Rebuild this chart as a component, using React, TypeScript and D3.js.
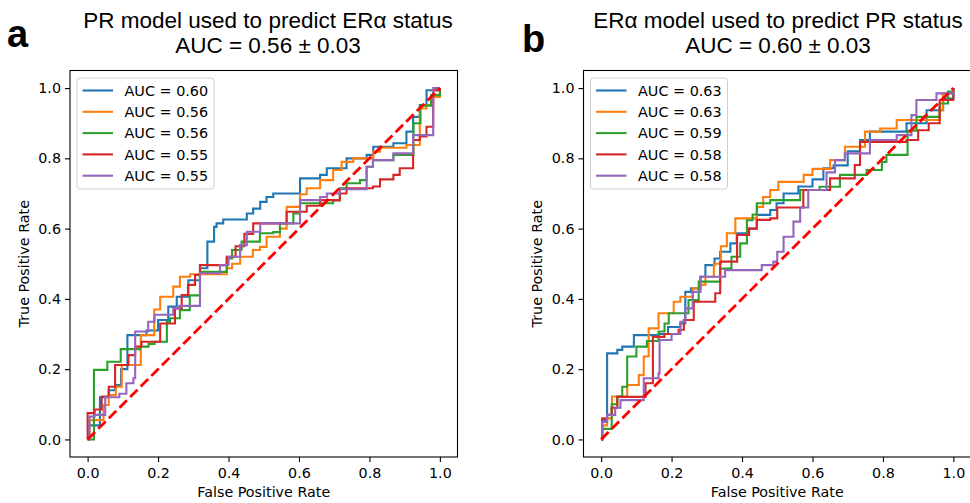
import React, { useEffect, useRef } from "react";
import * as d3 from "d3";

type Pt = [number, number];

const xTicks = [0, 0.2, 0.4, 0.6, 0.8, 1.0];
const yTicks = [0, 0.2, 0.4, 0.6, 0.8, 1.0];
const colors = ["#1f77b4", "#ff7f0e", "#2ca02c", "#d62728", "#9467bd"];

// panel a: PR model -> ERα
const aTitle = ["PR model used to predict ERα status", "AUC = 0.56 ± 0.03"];
const aAuc = ["0.60", "0.56", "0.56", "0.55", "0.55"];
const aBlue: Pt[] = [[0,0],[0.005,0.04],[0.035,0.12],[0.06,0.14],[0.078,0.155],[0.095,0.2],[0.113,0.297],[0.167,0.31],[0.2,0.34],[0.229,0.378],[0.253,0.406],[0.286,0.453],[0.319,0.487],[0.34,0.563],[0.359,0.605],[0.366,0.615],[0.385,0.626],[0.452,0.643],[0.47,0.657],[0.49,0.676],[0.508,0.69],[0.527,0.70],[0.603,0.743],[0.66,0.753],[0.679,0.772],[0.735,0.8],[0.792,0.81],[0.811,0.833],[0.868,0.843],[0.905,0.876],[0.924,0.918],[0.943,0.952],[0.962,0.994],[1,1]];
const aOrange: Pt[] = [[0,0],[0.005,0.055],[0.045,0.098],[0.06,0.126],[0.08,0.15],[0.097,0.212],[0.151,0.297],[0.189,0.37],[0.206,0.406],[0.243,0.435],[0.262,0.463],[0.291,0.47],[0.395,0.487],[0.41,0.5],[0.433,0.52],[0.469,0.539],[0.489,0.548],[0.508,0.577],[0.546,0.6],[0.565,0.662],[0.603,0.698],[0.622,0.715],[0.66,0.738],[0.697,0.767],[0.721,0.79],[0.754,0.80],[0.811,0.819],[0.83,0.83],[0.905,0.838],[0.943,0.942],[0.962,0.952],[0.981,0.975],[1,1]];
const aGreen: Pt[] = [[0,0],[0.018,0.198],[0.056,0.221],[0.094,0.257],[0.149,0.264],[0.173,0.272],[0.19,0.278],[0.225,0.335],[0.234,0.345],[0.262,0.368],[0.29,0.41],[0.319,0.477],[0.395,0.515],[0.41,0.539],[0.437,0.563],[0.489,0.587],[0.527,0.59],[0.546,0.615],[0.584,0.643],[0.603,0.672],[0.697,0.68],[0.716,0.715],[0.735,0.729],[0.773,0.738],[0.792,0.776],[0.81,0.795],[0.868,0.81],[0.925,0.9],[0.945,0.95],[0.975,0.98],[1,1]];
const aRed: Pt[] = [[0,0],[0,0.075],[0.02,0.085],[0.04,0.122],[0.06,0.15],[0.078,0.212],[0.116,0.24],[0.135,0.264],[0.153,0.278],[0.206,0.33],[0.248,0.373],[0.267,0.411],[0.285,0.44],[0.305,0.468],[0.319,0.496],[0.395,0.52],[0.42,0.55],[0.445,0.585],[0.47,0.615],[0.565,0.648],[0.622,0.665],[0.66,0.681],[0.716,0.70],[0.735,0.715],[0.81,0.72],[0.83,0.74],[0.868,0.753],[0.886,0.772],[0.924,0.852],[0.943,0.862],[0.962,0.89],[0.981,0.994],[1,1]];
const aPurple: Pt[] = [[0,0],[0.005,0.065],[0.02,0.07],[0.05,0.12],[0.09,0.13],[0.11,0.16],[0.13,0.174],[0.135,0.307],[0.172,0.335],[0.19,0.355],[0.243,0.373],[0.26,0.38],[0.319,0.473],[0.376,0.496],[0.4,0.52],[0.433,0.553],[0.452,0.591],[0.49,0.615],[0.603,0.681],[0.66,0.69],[0.679,0.7],[0.716,0.712],[0.792,0.776],[0.81,0.795],[0.868,0.814],[0.924,0.866],[0.981,1.0],[1,1]];

// panel b: ERα model -> PR
const bTitle = ["ERα model used to predict PR status", "AUC = 0.60 ± 0.03"];
const bAuc = ["0.63", "0.63", "0.59", "0.58", "0.58"];
const bBlue: Pt[] = [[0,0],[0.003,0.055],[0.017,0.245],[0.046,0.255],[0.06,0.264],[0.093,0.297],[0.164,0.3],[0.19,0.32],[0.225,0.33],[0.239,0.42],[0.255,0.43],[0.282,0.463],[0.296,0.496],[0.322,0.515],[0.338,0.534],[0.367,0.558],[0.385,0.587],[0.42,0.6],[0.442,0.639],[0.48,0.653],[0.498,0.672],[0.518,0.70],[0.56,0.72],[0.6,0.74],[0.631,0.772],[0.66,0.78],[0.7,0.82],[0.735,0.852],[0.763,0.876],[0.867,0.9],[0.924,0.937],[0.971,0.97],[1,1]];
const bOrange: Pt[] = [[0,0],[0.003,0.04],[0.017,0.06],[0.031,0.122],[0.074,0.155],[0.107,0.183],[0.121,0.236],[0.135,0.316],[0.163,0.359],[0.206,0.392],[0.225,0.406],[0.26,0.43],[0.282,0.44],[0.296,0.463],[0.32,0.5],[0.34,0.55],[0.357,0.587],[0.381,0.629],[0.442,0.662],[0.46,0.69],[0.48,0.71],[0.503,0.733],[0.575,0.753],[0.6,0.77],[0.65,0.795],[0.692,0.833],[0.749,0.876],[0.792,0.885],[0.839,0.909],[0.961,0.937],[0.97,0.985],[1,1]];
const bGreen: Pt[] = [[0,0],[0.003,0.03],[0.03,0.1],[0.046,0.122],[0.06,0.15],[0.074,0.236],[0.1,0.264],[0.13,0.28],[0.163,0.307],[0.18,0.33],[0.192,0.359],[0.248,0.397],[0.277,0.449],[0.338,0.486],[0.37,0.52],[0.395,0.558],[0.414,0.624],[0.43,0.64],[0.442,0.672],[0.48,0.681],[0.565,0.71],[0.62,0.719],[0.678,0.753],[0.754,0.767],[0.797,0.79],[0.81,0.81],[0.87,0.879],[0.895,0.918],[0.961,0.956],[0.985,0.99],[1,1]];
const bRed: Pt[] = [[0,0],[0.003,0.06],[0.017,0.07],[0.03,0.09],[0.046,0.121],[0.126,0.16],[0.147,0.292],[0.18,0.3],[0.22,0.312],[0.235,0.34],[0.263,0.392],[0.324,0.416],[0.338,0.506],[0.386,0.582],[0.42,0.6],[0.442,0.625],[0.48,0.629],[0.5,0.66],[0.574,0.71],[0.65,0.743],[0.72,0.781],[0.735,0.847],[0.867,0.852],[0.9,0.88],[0.93,0.9],[0.961,0.966],[1,1]];
const bPurple: Pt[] = [[0,0],[0.003,0.05],[0.017,0.07],[0.04,0.09],[0.055,0.112],[0.121,0.174],[0.163,0.188],[0.166,0.283],[0.2,0.3],[0.225,0.335],[0.239,0.373],[0.26,0.42],[0.282,0.463],[0.352,0.482],[0.456,0.496],[0.489,0.506],[0.5,0.534],[0.518,0.577],[0.546,0.62],[0.565,0.66],[0.588,0.71],[0.64,0.76],[0.664,0.795],[0.692,0.814],[0.763,0.852],[0.839,0.866],[0.881,0.923],[0.895,0.966],[0.952,0.985],[1,1]];

const tickFont = "'DejaVu Sans', sans-serif";
const titleFont = "'Liberation Sans', Arial, sans-serif";

const Panel = ({ left, right, top, bottom, curves, auc, title, titleX, letter, letterX, letterY }) => {
  const ref = useRef<SVGGElement>(null);
  useEffect(() => {
    const g = d3.select(ref.current);
    g.selectAll("*").remove();

    const x = d3.scaleLinear().domain([-0.05, 1.05]).range([left, right]);
    const y = d3.scaleLinear().domain([-0.05, 1.05]).range([bottom, top]);

    // axes, ticks only (frame drawn separately)
    const xAxis = d3.axisBottom(x).tickValues(xTicks).tickFormat(d3.format(".1f")).tickSize(5).tickPadding(5.5);
    const yAxis = d3.axisLeft(y).tickValues(yTicks).tickFormat(d3.format(".1f")).tickSize(5).tickPadding(4);
    const gx = g.append("g").attr("transform", `translate(0,${bottom})`).call(xAxis);
    const gy = g.append("g").attr("transform", `translate(${left},0)`).call(yAxis);
    [gx, gy].forEach((a) => {
      a.select(".domain").remove();
      a.attr("font-family", tickFont).attr("font-size", 14.3);
      a.selectAll("line").attr("stroke", "#000").attr("stroke-width", 1.1);
      a.selectAll("text").style("font-family", tickFont).style("font-size", "14.3px").attr("fill", "#000");
    });

    // curves
    const line = d3.line<Pt>().x((d) => x(d[0])).y((d) => y(d[1])).curve(d3.curveStepAfter);
    curves.forEach((c, i) => {
      g.append("path").attr("d", line(c)).attr("fill", "none")
        .attr("stroke", colors[i]).attr("stroke-width", 2.1).attr("stroke-linejoin", "miter");
    });

    // chance diagonal
    g.append("path").attr("d", d3.line<Pt>().x((d) => x(d[0])).y((d) => y(d[1]))([[0, 0], [1, 1]]))
      .attr("fill", "none").attr("stroke", "#ff0000").attr("stroke-width", 2.8).attr("stroke-dasharray", "10.5,4.5");

    // frame
    g.append("rect").attr("x", left).attr("y", top).attr("width", right - left).attr("height", bottom - top)
      .attr("fill", "none").attr("stroke", "#000").attr("stroke-width", 1.1);

    // legend
    const lx = left + 7, ly = top + 7.5;
    g.append("rect").attr("x", lx).attr("y", ly).attr("width", 137).attr("height", 111).attr("rx", 3)
      .attr("fill", "#fff").attr("fill-opacity", 0.8).attr("stroke", "#d0d0d0").attr("stroke-width", 1);
    auc.forEach((a, i) => {
      const yy = ly + 12.5 + i * 21.3;
      g.append("line").attr("x1", lx + 5.5).attr("x2", lx + 36).attr("y1", yy).attr("y2", yy)
        .attr("stroke", colors[i]).attr("stroke-width", 2.1);
      g.append("text").attr("x", lx + 47.5).attr("y", yy).attr("dy", "0.36em")
        .style("font-family", tickFont).style("font-size", "14.4px").text(`AUC = ${a}`);
    });

    // axis labels
    g.append("text").attr("x", (left + right) / 2).attr("y", 497).attr("text-anchor", "middle")
      .style("font-family", tickFont).style("font-size", "14.3px").text("False Positive Rate");
    g.append("text").attr("transform", `translate(${left - 41.5},${(top + bottom) / 2}) rotate(-90)`)
      .attr("text-anchor", "middle").style("font-family", tickFont).style("font-size", "14.3px").text("True Positive Rate");

    // title
    title.forEach((t, i) => {
      g.append("text").attr("x", titleX).attr("y", 28.3 + i * 25).attr("text-anchor", "middle")
        .style("font-family", titleFont).style("font-size", "22.5px").text(t);
    });
    g.append("text").attr("x", letterX).attr("y", letterY).style("font-family", titleFont)
      .style("font-weight", "bold").style("font-size", "38px").text(letter);
  });
  return <g ref={ref} />;
};

export default function App() {
  return (
    <svg width={970} height={503} style={{ position: "absolute", left: 0, top: 0, background: "#fff" }}>
      <Panel left={70} right={457.5} top={70.5} bottom={457} curves={[aBlue, aOrange, aGreen, aRed, aPurple]}
        auc={aAuc} title={aTitle} titleX={268} letter="a" letterX={7} letterY={47} />
      <Panel left={583.5} right={971} top={70.5} bottom={457} curves={[bBlue, bOrange, bGreen, bRed, bPurple]}
        auc={bAuc} title={bTitle} titleX={778} letter="b" letterX={522} letterY={51.5} />
    </svg>
  );
}
